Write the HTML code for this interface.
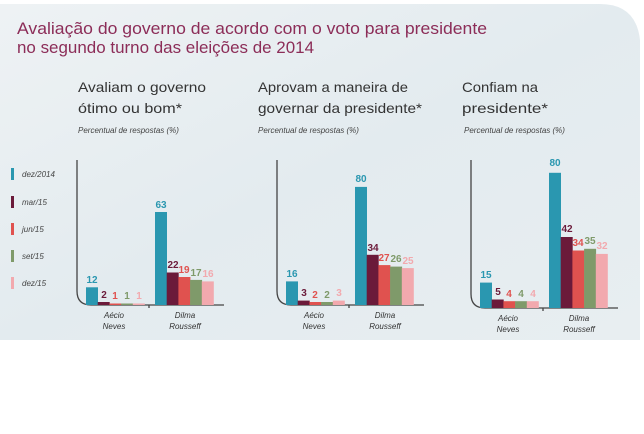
<!DOCTYPE html><html><head><style>body{margin:0;background:#fff}svg{display:block}</style></head><body>
<svg width="644" height="434" xmlns="http://www.w3.org/2000/svg" font-family="Liberation Sans, sans-serif">
<defs><linearGradient id="bg" x1="0" y1="0" x2="1" y2="1"><stop offset="0" stop-color="#eef2f4"/><stop offset="0.5" stop-color="#e3ebef"/><stop offset="1" stop-color="#e8eef1"/></linearGradient></defs>
<path d="M0 4 H600 Q636 4 640 40 V340 H0 Z" fill="url(#bg)"/>
<g fill="#8c2d58" font-size="17">
<text x="17" y="34" textLength="470" lengthAdjust="spacingAndGlyphs">Avaliação do governo de acordo com o voto para presidente</text>
<text x="17" y="53" textLength="297" lengthAdjust="spacingAndGlyphs">no segundo turno das eleições de 2014</text></g>
<g fill="#333" font-size="14">
<text x="78" y="92" textLength="128" lengthAdjust="spacingAndGlyphs">Avaliam o governo</text>
<text x="78" y="113" textLength="104" lengthAdjust="spacingAndGlyphs">ótimo ou bom*</text>
<text x="258" y="92" textLength="150" lengthAdjust="spacingAndGlyphs">Aprovam a maneira de</text>
<text x="258" y="113" textLength="164" lengthAdjust="spacingAndGlyphs">governar da presidente*</text>
<text x="462" y="92" textLength="76" lengthAdjust="spacingAndGlyphs">Confiam na</text>
<text x="462" y="113" textLength="86" lengthAdjust="spacingAndGlyphs">presidente*</text></g>
<g fill="#444" font-size="8" font-style="italic">
<text x="78" y="133">Percentual de respostas (%)</text>
<text x="258" y="133">Percentual de respostas (%)</text>
<text x="464" y="133">Percentual de respostas (%)</text>
<rect x="11" y="168" width="3" height="12" fill="#2a97b0"/><text x="22" y="177">dez/2014</text>
<rect x="11" y="196" width="3" height="12" fill="#6b1a3a"/><text x="22" y="205">mar/15</text>
<rect x="11" y="223" width="3" height="12" fill="#e0524f"/><text x="22" y="232">jun/15</text>
<rect x="11" y="250" width="3" height="12" fill="#7f9a6a"/><text x="22" y="259">set/15</text>
<rect x="11" y="277" width="3" height="12" fill="#f2a9ae"/><text x="22" y="286">dez/15</text>
</g>
<g fill="none" stroke="#444" stroke-width="1.3">
<path d="M77 160 V291 Q77 305 91 305 H224"/>
<path d="M277 160 V291 Q277 305 291 305 H424"/>
<path d="M471 160 V294 Q471 308 485 308 H618"/>
<path d="M149 305 v3 M349 305 v3 M543 308 v3"/>
</g>
<g>
<rect x="86" y="287.3" width="12" height="17.7" fill="#2a97b0"/>
<rect x="97.7" y="302" width="12" height="3" fill="#6b1a3a"/>
<rect x="109.4" y="303.5" width="12" height="1.5" fill="#e0524f"/>
<rect x="121.1" y="303.5" width="12" height="1.5" fill="#7f9a6a"/>
<rect x="132.8" y="303.5" width="12" height="1.5" fill="#f2a9ae"/>
<rect x="155" y="212" width="12" height="93" fill="#2a97b0"/>
<rect x="166.7" y="272.5" width="12" height="32.5" fill="#6b1a3a"/>
<rect x="178.4" y="277" width="12" height="28" fill="#e0524f"/>
<rect x="190.1" y="279.9" width="12" height="25.1" fill="#7f9a6a"/>
<rect x="201.8" y="281.4" width="12" height="23.6" fill="#f2a9ae"/>
</g>
<g>
<rect x="286" y="281.4" width="12" height="23.6" fill="#2a97b0"/>
<rect x="297.7" y="300.6" width="12" height="4.4" fill="#6b1a3a"/>
<rect x="309.4" y="302" width="12" height="3" fill="#e0524f"/>
<rect x="321.1" y="302" width="12" height="3" fill="#7f9a6a"/>
<rect x="332.8" y="300.6" width="12" height="4.4" fill="#f2a9ae"/>
<rect x="355" y="186.9" width="12" height="118.1" fill="#2a97b0"/>
<rect x="366.7" y="254.8" width="12" height="50.2" fill="#6b1a3a"/>
<rect x="378.4" y="265.1" width="12" height="39.9" fill="#e0524f"/>
<rect x="390.1" y="266.6" width="12" height="38.4" fill="#7f9a6a"/>
<rect x="401.8" y="268.1" width="12" height="36.9" fill="#f2a9ae"/>
</g>
<g>
<rect x="480" y="282.6" width="12" height="25.4" fill="#2a97b0"/>
<rect x="491.7" y="299.5" width="12" height="8.5" fill="#6b1a3a"/>
<rect x="503.4" y="301.2" width="12" height="6.8" fill="#e0524f"/>
<rect x="515.1" y="301.2" width="12" height="6.8" fill="#7f9a6a"/>
<rect x="526.8" y="301.2" width="12" height="6.8" fill="#f2a9ae"/>
<rect x="549" y="172.8" width="12" height="135.2" fill="#2a97b0"/>
<rect x="560.7" y="237" width="12" height="71" fill="#6b1a3a"/>
<rect x="572.4" y="250.5" width="12" height="57.5" fill="#e0524f"/>
<rect x="584.1" y="248.8" width="12" height="59.2" fill="#7f9a6a"/>
<rect x="595.8" y="253.9" width="12" height="54.1" fill="#f2a9ae"/>
</g>
<g font-size="10" font-weight="bold" text-anchor="middle">
<text x="92" y="283" fill="#2a97b0">12</text><text x="104" y="298" fill="#6b1a3a">2</text><text x="115" y="299" fill="#e0524f">1</text><text x="127" y="299" fill="#7f9a6a">1</text><text x="139" y="299" fill="#f2a9ae">1</text>
<text x="161" y="208" fill="#2a97b0">63</text><text x="173" y="268" fill="#6b1a3a">22</text><text x="184" y="273" fill="#e0524f">19</text><text x="196" y="276" fill="#7f9a6a">17</text><text x="208" y="277" fill="#f2a9ae">16</text>
<text x="292" y="277" fill="#2a97b0">16</text><text x="304" y="296" fill="#6b1a3a">3</text><text x="315" y="298" fill="#e0524f">2</text><text x="327" y="298" fill="#7f9a6a">2</text><text x="339" y="296" fill="#f2a9ae">3</text>
<text x="361" y="182" fill="#2a97b0">80</text><text x="373" y="251" fill="#6b1a3a">34</text><text x="384" y="261" fill="#e0524f">27</text><text x="396" y="262" fill="#7f9a6a">26</text><text x="408" y="264" fill="#f2a9ae">25</text>
<text x="486" y="278" fill="#2a97b0">15</text><text x="498" y="295" fill="#6b1a3a">5</text><text x="509" y="297" fill="#e0524f">4</text><text x="521" y="297" fill="#7f9a6a">4</text><text x="533" y="297" fill="#f2a9ae">4</text>
<text x="555" y="166" fill="#2a97b0">80</text><text x="567" y="232" fill="#6b1a3a">42</text><text x="578" y="246" fill="#e0524f">34</text><text x="590" y="244" fill="#7f9a6a">35</text><text x="602" y="249" fill="#f2a9ae">32</text>
</g>
<g font-size="8" font-style="italic" fill="#333" text-anchor="middle">
<text x="114" y="318">Aécio</text><text x="114" y="329">Neves</text><text x="185" y="318">Dilma</text><text x="185" y="329">Rousseff</text>
<text x="314" y="318">Aécio</text><text x="314" y="329">Neves</text><text x="385" y="318">Dilma</text><text x="385" y="329">Rousseff</text>
<text x="508" y="321">Aécio</text><text x="508" y="332">Neves</text><text x="579" y="321">Dilma</text><text x="579" y="332">Rousseff</text>
</g>
</svg></body></html>
